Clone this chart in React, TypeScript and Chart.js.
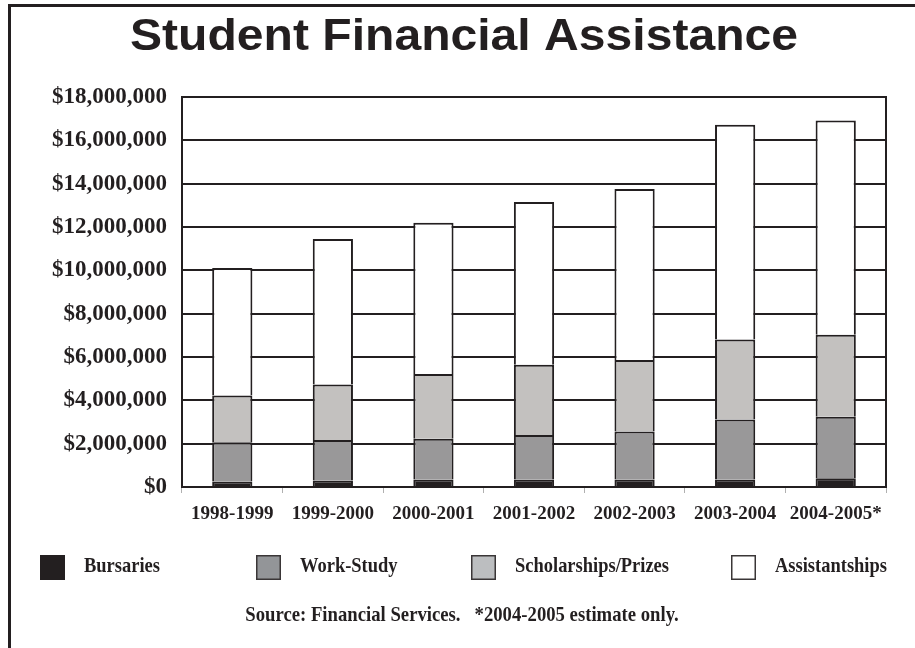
import React, { useEffect, useRef } from 'react';
import { Chart, registerables } from 'chart.js';

Chart.register(...registerables);

const categories = ['1998-1999', '1999-2000', '2000-2001', '2001-2002', '2002-2003', '2003-2004', '2004-2005*'];
const seriesNames = ['Bursaries', 'Work-Study', 'Scholarships/Prizes', 'Assistantships'];
const bursaries = [250000, 300000, 350000, 350000, 350000, 350000, 400000];
const workStudy = [1810000, 1870000, 1880000, 2050000, 2210000, 2770000, 2840000];
const scholarships = [2160000, 2560000, 2980000, 3240000, 3300000, 3690000, 3790000];
const assistantships = [5890000, 6720000, 6990000, 7510000, 7890000, 9910000, 9890000];
const yMin = 0;
const yMax = 18000000;
const yStep = 2000000;
const titleText = 'Student Financial Assistance';
const sourceText = 'Source: Financial Services.   *2004-2005 estimate only.';

const INK = '#231f20';
const barColors = ['#231f20', '#999899', '#c3c1bf', '#ffffff'];
const legendColors = ['#231f20', '#939598', '#bcbec0', '#ffffff'];

function drawScaledText(ctx: CanvasRenderingContext2D, text: string, x: number, y: number, sx: number, align: 'left' | 'center') {
  ctx.save();
  ctx.translate(x, y);
  ctx.scale(sx, 1);
  ctx.textAlign = align;
  ctx.textBaseline = 'alphabetic';
  ctx.fillText(text, 0, 0);
  ctx.restore();
}

const decorPlugin = {
  id: 'decor',
  afterDraw(chart: any) {
    const ctx: CanvasRenderingContext2D = chart.ctx;
    const area = chart.chartArea;
    ctx.save();
    // right border of plot area
    ctx.strokeStyle = INK;
    ctx.lineWidth = 2;
    ctx.beginPath();
    ctx.moveTo(area.right, area.top - 1);
    ctx.lineTo(area.right, area.bottom + 1);
    ctx.stroke();

    // page frame (top and left)
    ctx.fillStyle = INK;
    ctx.fillRect(8, 4, chart.width - 8, 3);
    ctx.fillRect(8, 4, 3, chart.height - 4);

    // title
    ctx.fillStyle = INK;
    ctx.font = 'bold 45px "Liberation Sans", Arial, sans-serif';
    const tw = ctx.measureText(titleText).width;
    drawScaledText(ctx, titleText, 464, 50, 668 / tw, 'center');

    // legend
    const boxX = [40, 256, 471, 731];
    ctx.font = 'bold 22px "Liberation Serif", "Times New Roman", serif';
    chart.data.datasets.forEach((ds: any, i: number) => {
      const bx = boxX[i];
      ctx.fillStyle = legendColors[i];
      ctx.fillRect(bx, 555, 25, 25);
      if (i > 0) {
        ctx.strokeStyle = '#3a3637';
        ctx.lineWidth = 1.5;
        ctx.strokeRect(bx + 0.75, 555.75, 23.5, 23.5);
      }
      ctx.fillStyle = INK;
      drawScaledText(ctx, ds.label, bx + 44, 572, 0.84, 'left');
    });

    // source
    ctx.fillStyle = INK;
    ctx.font = 'bold 22px "Liberation Serif", "Times New Roman", serif';
    drawScaledText(ctx, sourceText, 462, 621, 0.85, 'center');
    ctx.restore();
  },
};

export default function App() {
  const canvasRef = useRef<HTMLCanvasElement | null>(null);

  useEffect(() => {
    if (!canvasRef.current) return;
    const values = [bursaries, workStudy, scholarships, assistantships];
    const chart = new Chart(canvasRef.current, {
      type: 'bar',
      data: {
        labels: categories,
        datasets: seriesNames.map((name, i) => ({
          label: name,
          data: values[i],
          backgroundColor: barColors[i],
          borderColor: INK,
          borderWidth: 2,
          borderSkipped: 'start',
          barPercentage: 0.4,
          categoryPercentage: 1,
        })),
      },
      options: {
        animation: false,
        responsive: false,
        maintainAspectRatio: false,
        layout: { padding: { top: 97, right: 29, left: 0, bottom: 0 } },
        plugins: {
          legend: { display: false },
          title: { display: false },
          tooltip: { enabled: false },
        },
        scales: {
          x: {
            stacked: true,
            grid: {
              display: true,
              drawOnChartArea: false,
              drawTicks: true,
              tickLength: 6,
              color: '#b0b0b0',
              lineWidth: 1,
            },
            border: { display: true, color: INK, width: 2 },
            ticks: {
              color: INK,
              font: { family: '"Liberation Serif", "Times New Roman", serif', weight: 'bold', size: 19 },
              padding: 10,
              maxRotation: 0,
              autoSkip: false,
            },
            afterFit(scale: any) {
              scale.height = 161;
            },
          },
          y: {
            stacked: true,
            min: yMin,
            max: yMax,
            grid: {
              color: INK,
              lineWidth: 2,
              drawTicks: false,
            },
            border: { display: true, color: INK, width: 2 },
            ticks: {
              stepSize: yStep,
              color: INK,
              padding: 15,
              font: { family: '"Liberation Serif", "Times New Roman", serif', weight: 'bold', size: 23 },
              callback: (v: any) => '$' + Number(v).toLocaleString('en-US'),
            },
            afterFit(scale: any) {
              scale.width = 182;
            },
          },
        },
      },
      plugins: [decorPlugin],
    });
    return () => chart.destroy();
  }, []);

  return (
    <div style={{ position: 'fixed', left: 0, top: 0, width: 915, height: 648, background: '#ffffff' }}>
      <canvas ref={canvasRef} width={915} height={648} style={{ display: 'block', width: 915, height: 648 }} />
    </div>
  );
}
